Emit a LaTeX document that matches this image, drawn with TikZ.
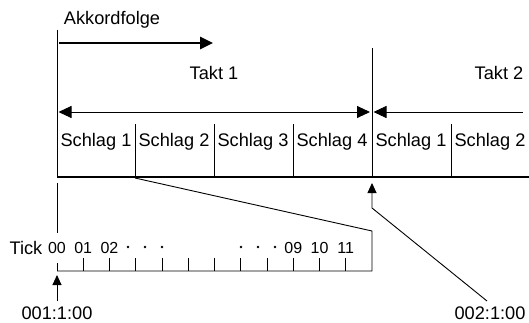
\documentclass[tikz,border=0pt]{standalone}
\usepackage{fontspec}
\setmainfont{Liberation Sans}
\usetikzlibrary{arrows.meta}
\begin{document}
\begin{tikzpicture}[x=1pt,y=-1pt,
  thin line/.style={line width=0.9pt},
  lbl/.style={font=\fontsize{18.2}{19}\selectfont, inner sep=0pt},
  num/.style={font=\fontsize{16}{17}\selectfont, inner sep=0pt},
  big tip/.style={-{Triangle[length=13pt,width=12pt]}},
  small tip/.style={-{Triangle[length=10pt,width=9pt]}},
  dotmark/.style={circle, fill, inner sep=0pt, minimum size=2.6pt}]
\useasboundingbox (0,0) rectangle (529,323);
% texts
\node[lbl] (akk) at (112,20) {Akkordfolge};
\node[lbl] (t1) at (214,73) {Takt 1};
\node[lbl] (t2) at (499,73) {Takt 2};
\foreach \x/\n [count=\i] in {96/1,174/2,253/3,332/4,411/1,490/2}
  \node[lbl] (s\i) at (\x,142) {Schlag \n};
\node[lbl] (tick) at (26,248) {Tick};
\node[lbl] (p1) at (57,313) {001:1:00};
\node[lbl] (p2) at (490,313) {002:1:00};
% coordinates
\coordinate (lt) at (57,30);
\coordinate (lb) at (57,177);
\coordinate (rt) at (372,48);
\coordinate (rb) at (372,177);
\coordinate (be) at (529,177);
% main lines
\draw[thin line] (lt) -- (lb);
\draw[thin line] (rt) -- (rb);
\draw[line width=2pt] (lb) -- (be);
\foreach \x in {135,214,293,451}
  \draw[thin line] (\x,124) coordinate (d\x) -- (\x,177);
% Akkordfolge arrow
\coordinate (a0) at (59,43);
\coordinate (a1) at (213,43);
\draw[line width=2.6pt, big tip] (a0) -- (a1);
% Takt arrows
\coordinate (k0) at (58.5,112);
\coordinate (k1) at (370,112);
\coordinate (k2) at (373.5,112);
\coordinate (k3) at (523,112);
\draw[thin line, {Triangle[length=13pt,width=12pt]}-{Triangle[length=13pt,width=12pt]}] (k0) -- (k1);
\draw[thin line, {Triangle[length=13pt,width=12pt]}-] (k2) -- (k3);
% zoom to ticks
\coordinate (z0) at (135,178);
\coordinate (z1) at (372,231);
\coordinate (z2) at (372,271);
\coordinate (z3) at (57,271);
\draw[thin line] (z0) -- (z1) -- (z2) -- (z3);
\draw[thin line] (57,183) -- (57,233);
\draw[thin line] (57,263) -- (57,271);
\foreach \i in {1,...,11}
  \draw[thin line] (57+26.25*\i,258) -- (57+26.25*\i,271);
% tick numbers
\foreach \x/\n in {57/00,83.25/01,109.5/02,293.25/09,319.5/10,345.75/11}
  \node[num] at (\x,248) {\n};
\foreach \x in {128,145,162,241,258,275}
  \node[dotmark] at (\x,247) {};
% position arrows
\coordinate (u1) at (57,275);
\draw[thin line, small tip] (57,301) -- (u1);
\coordinate (u2) at (372,183);
\coordinate (m2) at (372,208);
\draw[thin line, small tip] (487,301) -- (m2) -- (u2);
\end{tikzpicture}
\end{document}
